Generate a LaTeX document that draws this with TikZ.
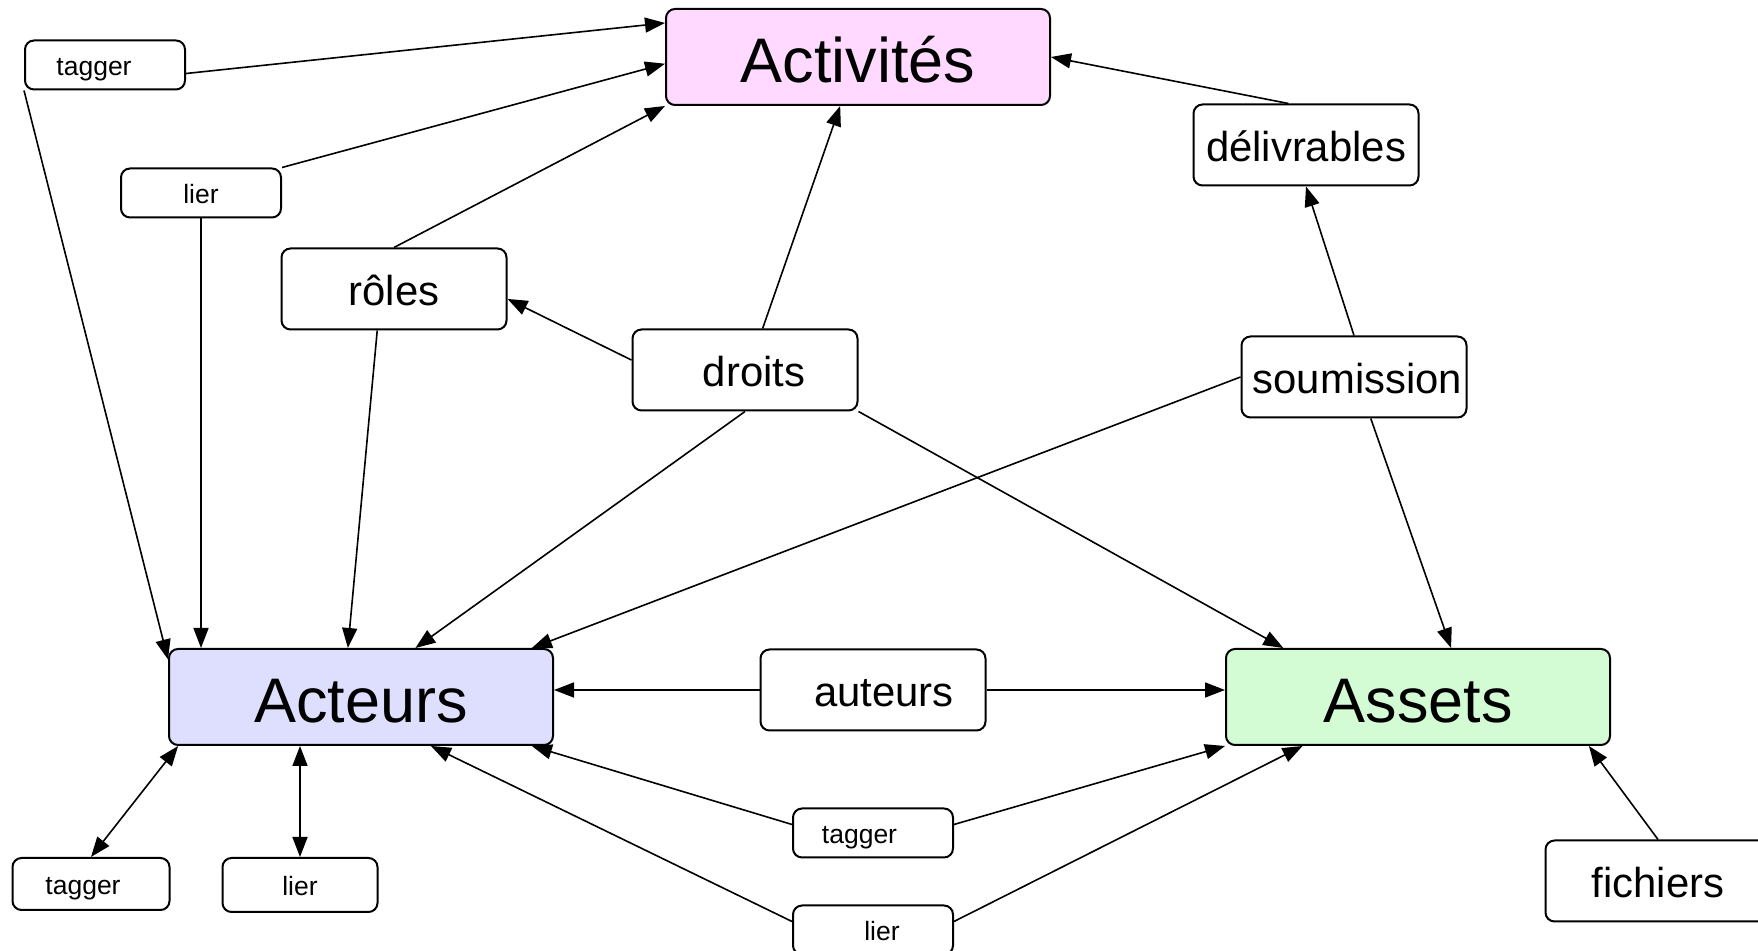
\documentclass[tikz,border=0pt]{standalone}
\usepackage{fontspec}
\setmainfont{Liberation Sans}
\usetikzlibrary{arrows.meta}
\usetikzlibrary{calc}

\tikzset{
  box/.style={draw, line width=1bp, rounded corners=4.5bp, fill=white, inner sep=0pt,
    text height=16.8bp, text depth=0pt,
    minimum width=112.5bp, minimum height=40.5bp, font=\fontsize{21}{24}\selectfont},
  bigbox/.style={box, text height=25.2bp, minimum width=192bp, minimum height=48bp, font=\fontsize{31.6}{36}\selectfont},
  smallbox/.style={box, text height=10.6bp, minimum width=80bp, minimum height=24.5bp, font=\fontsize{13.3}{15}\selectfont},
  link/.style={->, line width=0.8bp},
}

\begin{document}
\begin{tikzpicture}[>={Triangle[length=10bp,width=7.5bp]},line join=bevel,scale=0.5]
    \useasboundingbox (0bp,0bp) rectangle (1758bp,951bp);
    \definecolor{actcol}{rgb}{1.0,0.85,1.0};
    \definecolor{acteurcol}{rgb}{0.87,0.87,1.0};
    \definecolor{assetcol}{rgb}{0.83,0.99,0.83};
    %%
    % Node: main boxes
    \node[bigbox, fill=actcol] (act) at (858bp,894bp) {Activités};
    \node[bigbox, fill=acteurcol] (acteurs) at (361bp,254bp) {Acteurs};
    \node[bigbox, fill=assetcol] (assets) at (1418bp,254bp) {Assets};
    % Node: relations
    \node[box] (roles) at (394bp,662bp) {rôles};
    \node[box] (droits) at (745bp,581bp) {\hspace*{9bp}droits};
    \node[box] (deliv) at (1306bp,806bp) {délivrables};
    \node[box] (soum) at (1354bp,574bp) {\hspace*{3.4bp}soumission};
    \node[box] (auteurs) at (873bp,261bp) {\hspace*{11bp}auteurs};
    \node[box] (fichiers) at (1658bp,70bp) {fichiers};
    % Node: tagger / lier
    \node[smallbox] (tagA) at (105bp,886bp) {tagger\hspace*{11bp}};
    \node[smallbox] (lierA) at (201bp,758bp) {lier};
    \node[smallbox, minimum width=78.5bp, minimum height=26bp] (tagB) at (91bp,67bp) {tagger\hspace*{8bp}};
    \node[smallbox, minimum width=77.5bp, minimum height=27bp] (lierB) at (300bp,66bp) {lier};
    \node[smallbox] (tagC) at (873bp,118bp) {tagger\hspace*{13.5bp}};
    \node[smallbox] (lierC) at (873bp,21bp) {\hspace*{9bp}lier};
    %
    % Edge: tagger -> Activites, Acteurs
    \draw[link] (tagA.-6) -- (act.170);
    \draw[link] (tagA.south west) -- (acteurs.169);
    % Edge: lier -> Activites, Acteurs
    \draw[link] (lierA.north east) -- (act.182);
    \draw[link] (lierA.south) -- (lierA.south |- acteurs.north);
    % Edge: roles -> Activites, Acteurs
    \draw[link] (roles.north) -- (act.south west);
    \draw[link] (roles.-112) -- (acteurs.105);
    % Edge: droits -> roles, Activites, Acteurs, Assets
    \draw[link] (droits.175) -- (roles.-5);
    \draw[link] (droits.67) -- (act.-110);
    \draw[link] (droits.south) -- (acteurs.42);
    \draw[link] (droits.south east) -- (assets.160);
    % Edge: delivrables -> Activites
    \draw[link] (deliv.113) -- (act.east);
    % Edge: soumission -> delivrables, Acteurs, Assets
    \draw[link] (soum.north) -- (deliv.south);
    \draw[link] (soum.west) -- (acteurs.16);
    \draw[link] (soum.-68) -- (assets.56);
    % Edge: auteurs -> Acteurs, Assets
    \draw[link] (auteurs.west) -- (auteurs.west -| acteurs.east);
    \draw[link] (auteurs.east) -- (auteurs.east -| assets.west);
    % Edge: tagger, lier -> Acteurs, Assets
    \draw[link] (tagC.174) -- (acteurs.-16);
    \draw[link] (tagC.6) -- (assets.south west);
    \draw[link] (lierC.174) -- (acteurs.-35);
    \draw[link] (lierC.6) -- (assets.-157);
    % Edge: Acteurs <-> tagger, lier
    \draw[link, <->] (acteurs.195) -- (tagB.north);
    \draw[link, <->] (lierB.north) -- (lierB.north |- acteurs.south);
    % Edge: fichiers -> Assets
    \draw[link] (fichiers.north) -- (assets.-16);
    %
\end{tikzpicture}
\end{document}
